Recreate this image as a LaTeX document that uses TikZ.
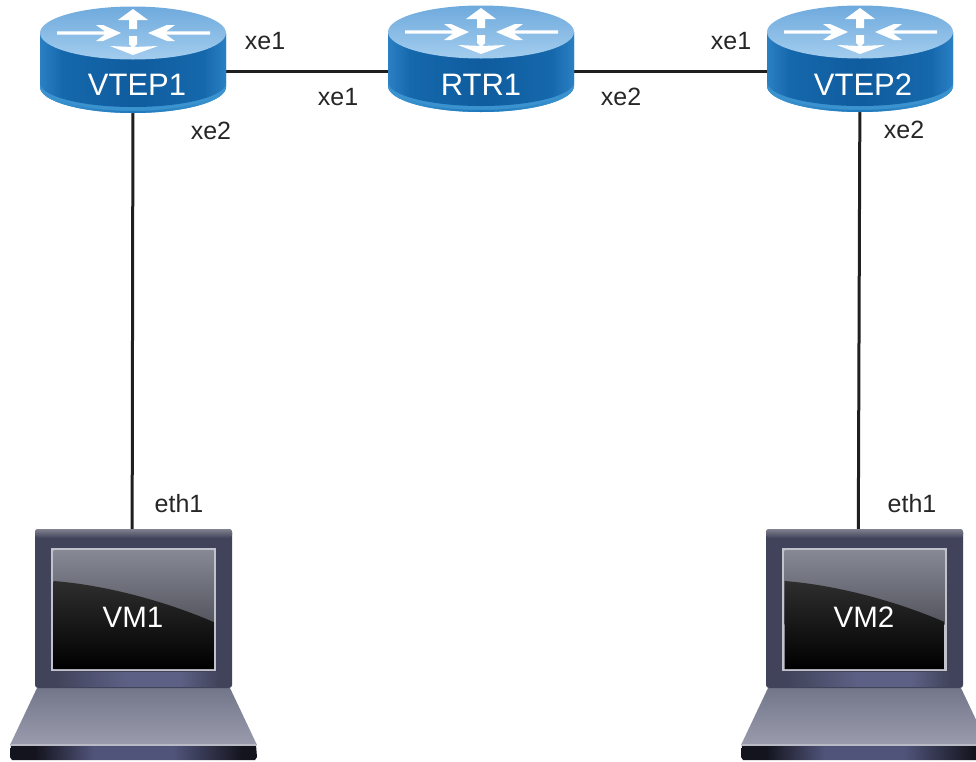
\documentclass[tikz,border=0pt]{standalone}
\usepackage{fontspec}
\setmainfont{Liberation Sans}
\usetikzlibrary{calc}
\definecolor{routerA}{HTML}{2A80C2}
\definecolor{routerB}{HTML}{0F5C9E}
\definecolor{routerC}{HTML}{1568AC}
\definecolor{routerE}{HTML}{3A92CE}
\definecolor{routerM}{HTML}{1F78BC}
\definecolor{routerTopA}{HTML}{6FAADD}
\definecolor{routerTopB}{HTML}{A4CDEE}
\definecolor{lapA}{HTML}{41435A}
\definecolor{lapB}{HTML}{5C6084}
\definecolor{lapD}{HTML}{14141E}
\definecolor{lapF}{HTML}{50547A}
\definecolor{lapTop}{HTML}{80828F}
\definecolor{baseA}{HTML}{737689}
\definecolor{baseB}{HTML}{9A9CAE}
\definecolor{screenFrame}{HTML}{C2C2CC}
\pgfdeclarehorizontalshading{routerside}{100bp}{
  color(0bp)=(routerA); color(25bp)=(routerA); color(31bp)=(routerC); color(50bp)=(routerB);
  color(69bp)=(routerC); color(75bp)=(routerA); color(100bp)=(routerA)}
\pgfdeclarehorizontalshading{routerlip}{100bp}{
  color(0bp)=(routerE); color(28bp)=(routerE); color(50bp)=(routerM); color(72bp)=(routerE); color(100bp)=(routerE)}
\pgfdeclarehorizontalshading{lidglow}{100bp}{
  color(0bp)=(lapA); color(30bp)=(lapA); color(48bp)=(lapB); color(62bp)=(lapB); color(72bp)=(lapA); color(100bp)=(lapA)}
\pgfdeclarehorizontalshading{stripglow}{100bp}{
  color(0bp)=(lapD); color(30bp)=(lapD); color(42bp)=(lapF); color(58bp)=(lapF); color(72bp)=(lapD); color(100bp)=(lapD)}
\tikzset{
  wire/.style={draw=black!88,line width=3pt},
  port/.style={font=\fontsize{25}{28}\selectfont,text=black!85,inner sep=0pt},
  devlabel/.style={font=\fontsize{31}{33}\selectfont,text=white,inner sep=0pt},
  vmlabel/.style={font=\fontsize{29.5}{32}\selectfont,text=white,inner sep=0pt},
  routerspot/.style={minimum width=186pt,minimum height=30pt,inner sep=0pt},
  lapspot/.style={minimum width=197pt,minimum height=160pt,inner sep=0pt},
  pics/router/.style={code={
    % body
    \fill[routerE] (-93,0) -- (-93,54) arc[start angle=180,end angle=0,x radius=93,y radius=26] -- (93,0) -- cycle;
    \path[shading=routerlip] (-93,50) arc[start angle=180,end angle=0,x radius=93,y radius=28] -- (93,54) arc[start angle=0,end angle=180,x radius=93,y radius=26] -- cycle;
    \path[shading=routerside] (-93,0) -- (-93,50) arc[start angle=180,end angle=0,x radius=93,y radius=24] -- (93,0) -- cycle;
    % top
    \path[top color=routerTopA,bottom color=routerTopB] (0,0) ellipse[x radius=93,y radius=26.5];
    % arrows
    \fill[white] (-76,-1.6) -- (-28,-1.6) -- (-37,-8) -- (-30,-8) -- (-12,0) -- (-30,8) -- (-37,8) -- (-28,1.6) -- (-76,1.6) -- cycle;
    \fill[white] (77,-1.6) -- (33,-1.6) -- (42,-8) -- (34,-8) -- (15,0) -- (34,8) -- (42,8) -- (33,1.6) -- (77,1.6) -- cycle;
    \fill[white] (-4,-4) -- (-4,-13) -- (-15,-13) -- (0,-24) -- (15,-13) -- (4,-13) -- (4,-4) -- cycle;
    \fill[white] (-4,3) -- (-4,11) -- (-1,14) -- (-23,13) -- (0,22) -- (25,13) -- (1,14) -- (4,11) -- (4,3) -- cycle;
  }},
  pics/laptop/.style={code={
    % origin at left top corner of the lid
    \path[top color=baseA,bottom color=baseB] (2,159) -- (195,159) -- (222,216) -- (-25,216) -- cycle;
    \path[shading=stripglow] (-24,216) -- (221,216) -- (222,228) -- (220,231) -- (-23,231) -- (-25,228) -- cycle;
    \fill[baseB!70!white] (-24,215) rectangle (221,217);
    \fill[lapA,rounded corners=3pt] (0,0) -- (0,159) -- (197,159) -- (197,0) -- cycle;
    \path[shading=lidglow] (1,143) rectangle (196,157);
    \path[top color=lapTop,bottom color=lapA,rounded corners=3pt] (0,9) -- (0,0) -- (197,0) -- (197,9) -- cycle;
    \fill[screenFrame] (16,19) rectangle (181,142);
    \path[top color=lapTop!95!white,bottom color=black!35!lapTop] (18.5,21) rectangle (178.5,95);
    \path[top color=black!82,bottom color=black] (18.5,52) .. controls (70,56) and (130,72) .. (178.5,93) -- (178.5,140) -- (18.5,140) -- cycle;
  }}
}
\begin{document}
\begin{tikzpicture}[x=1pt,y=-1pt]
\useasboundingbox (0,0) rectangle (976,761);
\clip (0,0) rectangle (976,761);
\node[routerspot] (vtep1) at (133,71) {};
\node[routerspot] (rtr1) at (481,71) {};
\node[routerspot] (vtep2) at (860,71) {};
\node[lapspot] (vm1) at (132,608) {};
\node[lapspot] (vm2) at (858,608) {};
\draw[wire] (vtep1.center) -- (rtr1.center);
\draw[wire] (rtr1.center) -- (vtep2.center);
\draw[wire] (vtep1.center) -- (vm1.center);
\draw[wire] (vtep2.center) -- (vm2.center);
\pic at (133,33) {router};
\pic at (481,32) {router};
\pic at (860,32) {router};
\pic at (35,529) {laptop};
\pic at (766,529) {laptop};
\node[devlabel] (vtep1label) at (137,85) {VTEP1};
\node[devlabel] (rtr1label) at (481,85) {RTR1};
\node[devlabel] (vtep2label) at (863,85) {VTEP2};
\node[vmlabel] (vm1label) at (133,617) {VM1};
\node[vmlabel] (vm2label) at (864,617) {VM2};
\node[port] (p1) at (265,41) {xe1};
\node[port] (p2) at (338,97) {xe1};
\node[port] (p3) at (211,131) {xe2};
\node[port] (p4) at (731,41) {xe1};
\node[port] (p5) at (621,97) {xe2};
\node[port] (p6) at (904,130) {xe2};
\node[port] (p7) at (179,504) {eth1};
\node[port] (p8) at (912,504) {eth1};
\end{tikzpicture}
\end{document}
